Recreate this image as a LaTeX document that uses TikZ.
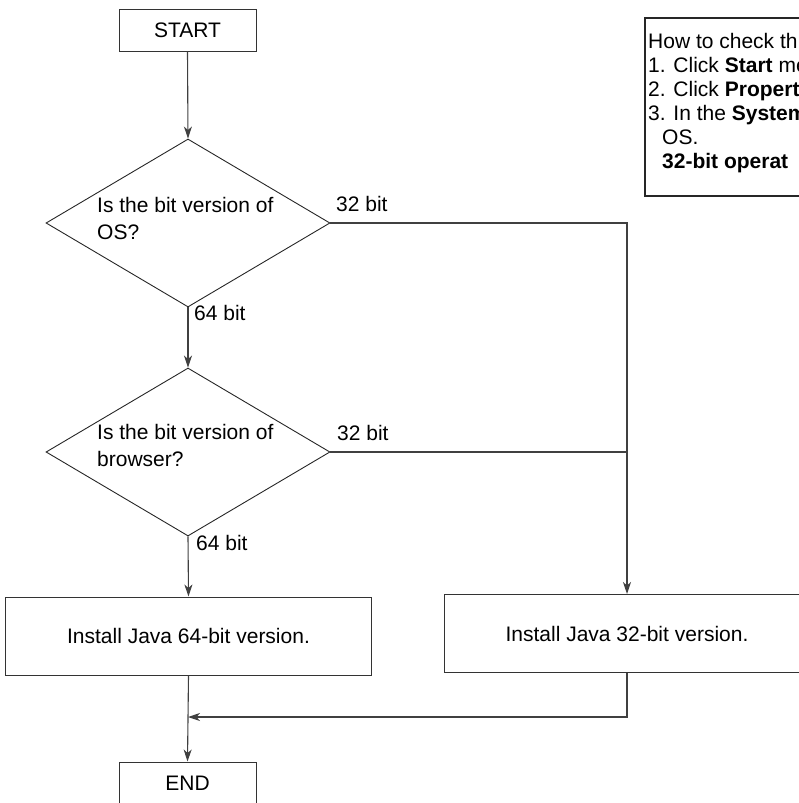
\documentclass[tikz,border=0pt]{standalone}
\usepackage{fontspec}
\setmainfont{Liberation Sans}
\usetikzlibrary{arrows.meta,shapes.geometric}
\begin{document}
\begin{tikzpicture}[x=1pt,y=-1pt,
  every node/.style={font=\fontsize{21}{27}\selectfont, text=black},
  ln/.style={draw=black!75, line width=1.1pt},
  arr/.style={ln, -{Stealth[length=12pt,width=8pt,inset=3.5pt]}},
  termbox/.style={draw=black!80, line width=1pt, minimum width=137pt, minimum height=42pt, inner sep=0pt},
  procbox/.style={draw=black!80, line width=1pt, minimum width=366pt, minimum height=78pt, inner sep=0pt},
  decision/.style={draw=black!85, line width=0.9pt, diamond, minimum width=284pt, minimum height=168pt, inner sep=0pt},
  edgelabel/.style={anchor=west, inner sep=0pt},
  notebox/.style={draw=black!85, line width=1.6pt, anchor=north west, minimum width=300pt, minimum height=178pt, inner sep=0pt}
]
\useasboundingbox (0,0) rectangle (799,803);

% note box (cut off at the right edge)
\node[notebox] (note) at (644,17) {};
\node[anchor=north west, align=left, inner sep=0pt, font=\fontsize{21}{24}\selectfont] (notetext) at (648,33)
  {How to check th\\
   1. Click \textbf{Start} me\\
   2. Click \textbf{Propert}\\
   3. In the \textbf{System}\\
   \hspace*{14pt}OS.\\
   \hspace*{14pt}\textbf{32-bit operat}};

% flow
\node[termbox] (start) at (187.5,30) {START};
\node[decision] (d1) at (188,223) {};
\node[anchor=west, align=left, inner sep=0pt] (d1t) at (97,218.5) {Is the bit version of\\OS?};
\node[decision] (d2) at (188,452) {};
\node[anchor=west, align=left, inner sep=0pt] (d2t) at (97,445.5) {Is the bit version of\\browser?};

\node[procbox] (p64) at (188.5,636) {Install Java 64-bit version.};
\node[procbox] (p32) at (627,633.5) {Install Java 32-bit version.};
\node[termbox] (end) at (187.5,783) {END};

\node[edgelabel] (l1a) at (336,204) {32 bit};
\node[edgelabel] (l1b) at (194,313) {64 bit};
\node[edgelabel] (l2a) at (337,433) {32 bit};
\node[edgelabel] (l2b) at (196,543) {64 bit};

\coordinate (merge) at (188,717);

\draw[arr] (start.south) -- (d1.north);
\draw[arr] (d1.south) -- (d2.north);
\draw[arr] (d2.south) -- (p64.north);
\draw[arr] (d1.east) -| (p32.north);
\draw[ln] (d2.east) -- (d2.east -| p32.north);
\draw[arr] (p32.south) |- (merge);
\draw[arr] (p64.south) -- (end.north);
\end{tikzpicture}
\end{document}
